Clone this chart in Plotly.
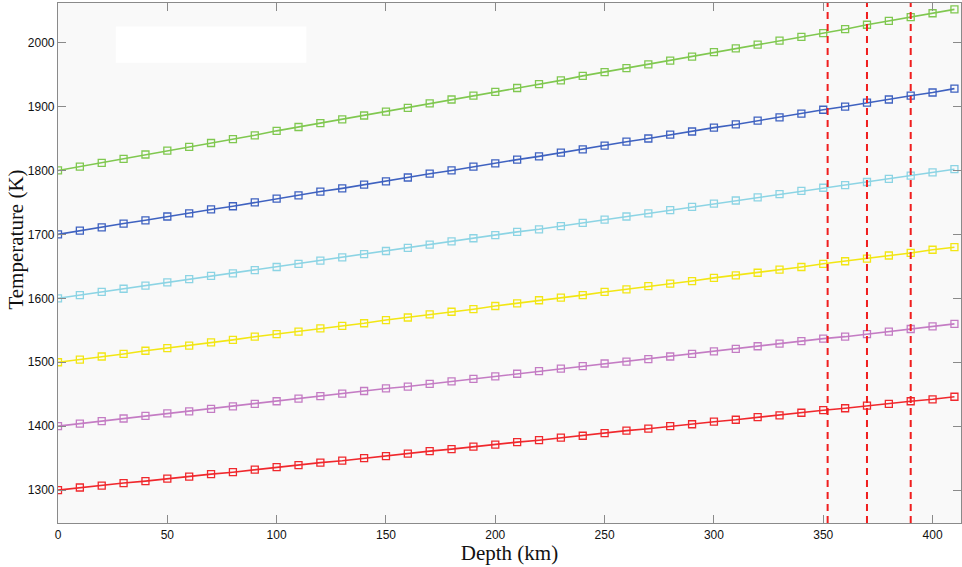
import plotly.graph_objects as go

depth = [0, 10, 20, 30, 40, 50, 60, 70, 80, 90, 100, 110, 120, 130, 140, 150, 160, 170, 180, 190,
         200, 210, 220, 230, 240, 250, 260, 270, 280, 290, 300, 310, 320, 330, 340, 350, 360, 370,
         380, 390, 400, 410]

t_red = [1300, 1304, 1307, 1311, 1314, 1318, 1321, 1325, 1328, 1332, 1336, 1339, 1343, 1346, 1350,
         1353, 1357, 1361, 1364, 1368, 1371, 1375, 1378, 1382, 1385, 1389, 1393, 1396, 1400, 1403,
         1407, 1410, 1414, 1417, 1421, 1425, 1428, 1432, 1435, 1439, 1442, 1446]
t_purple = [1400, 1404, 1408, 1412, 1416, 1420, 1423, 1427, 1431, 1435, 1439, 1443, 1447, 1451, 1455,
            1459, 1462, 1466, 1470, 1474, 1478, 1482, 1486, 1490, 1494, 1498, 1501, 1505, 1509, 1513,
            1517, 1521, 1525, 1529, 1533, 1537, 1540, 1544, 1548, 1552, 1556, 1560]
t_yellow = [1500, 1504, 1509, 1513, 1518, 1522, 1526, 1531, 1535, 1540, 1544, 1548, 1553, 1557, 1561,
            1566, 1570, 1575, 1579, 1583, 1588, 1592, 1597, 1601, 1605, 1610, 1614, 1619, 1623, 1627,
            1632, 1636, 1640, 1645, 1649, 1654, 1658, 1662, 1667, 1671, 1676, 1680]
t_cyan = [1600, 1605, 1610, 1615, 1620, 1625, 1630, 1635, 1639, 1644, 1649, 1654, 1659, 1664, 1669,
          1674, 1679, 1684, 1689, 1694, 1699, 1704, 1708, 1713, 1718, 1723, 1728, 1733, 1738, 1743,
          1748, 1753, 1758, 1763, 1768, 1773, 1777, 1782, 1787, 1792, 1797, 1802]
t_blue = [1700, 1706, 1711, 1717, 1722, 1728, 1733, 1739, 1744, 1750, 1756, 1761, 1767, 1772, 1778,
          1783, 1789, 1795, 1800, 1806, 1811, 1817, 1822, 1828, 1833, 1839, 1845, 1850, 1856, 1861,
          1867, 1872, 1878, 1883, 1889, 1895, 1900, 1906, 1911, 1917, 1922, 1928]
t_green = [1800, 1806, 1812, 1818, 1825, 1831, 1837, 1843, 1849, 1855, 1862, 1868, 1874, 1880, 1886,
           1892, 1898, 1905, 1911, 1917, 1923, 1929, 1935, 1941, 1948, 1954, 1960, 1966, 1972, 1978,
           1985, 1991, 1997, 2003, 2009, 2015, 2021, 2028, 2034, 2040, 2046, 2052]

series = [
    (t_red, "#f0282d"),
    (t_purple, "#c47cc4"),
    (t_yellow, "#f2e614"),
    (t_cyan, "#8cd4e4"),
    (t_blue, "#3f62c0"),
    (t_green, "#80c850"),
]

boundaries = [352, 370, 390]

x_ticks = [0, 50, 100, 150, 200, 250, 300, 350, 400]
y_ticks = [1300, 1400, 1500, 1600, 1700, 1800, 1900, 2000]

fig = go.Figure()
for vals, col in series:
    fig.add_trace(go.Scatter(
        x=depth, y=vals, mode="lines+markers",
        line=dict(color=col, width=1.6),
        marker=dict(symbol="square-open", size=7, color=col, line=dict(width=1.3, color=col)),
        showlegend=False,
    ))

for b in boundaries:
    fig.add_shape(type="line", xref="x", yref="paper", x0=b, x1=b, y0=0, y1=1,
                  line=dict(color="#f01e1e", width=2, dash="7px,5px"))

# blank legend-like box
fig.add_shape(type="rect", xref="paper", yref="paper", x0=0.064, x1=0.275, y0=0.885, y1=0.955,
              fillcolor="white", line=dict(width=0), layer="below")

fig.add_annotation(text="Temperature (K)", xref="paper", yref="paper",
                   x=-0.0465, y=0.545, xanchor="center", yanchor="middle", textangle=-90,
                   showarrow=False,
                   font=dict(family="Liberation Serif, Times New Roman", size=21, color="#111111"))

axis_common = dict(
    showgrid=False, zeroline=False, showline=True, linecolor="#8a8a8a", linewidth=1.2,
    mirror="ticks", ticks="inside", ticklen=8, tickcolor="#8a8a8a", tickwidth=1.2,
    tickfont=dict(family="Liberation Sans, Arial", size=12, color="#111111"),
)

fig.update_layout(
    width=962, height=567,
    margin=dict(l=58, r=1, t=3, b=44, autoexpand=False),
    paper_bgcolor="white",
    plot_bgcolor="#f9f9f9",
    xaxis=dict(range=[0, 413], tickvals=x_ticks,
               title=dict(text="Depth (km)", font=dict(family="Liberation Serif, Times New Roman", size=21, color="#111111"), standoff=0),
               **axis_common),
    yaxis=dict(range=[1248.5, 2062], tickvals=y_ticks, **axis_common),
)

fig.write_html("out.html", config={"displayModeBar": False},
               post_script="document.body.style.margin='0';document.body.style.overflow='hidden';")
